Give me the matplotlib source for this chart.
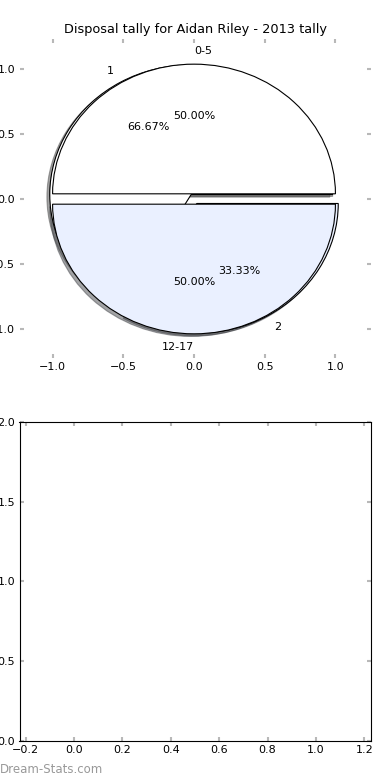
import numpy as np
import matplotlib
matplotlib.use("Agg")
import matplotlib.pyplot as plt

# pie data
tally_labels = ["1", "2"]
tally_values = [2, 1]
range_labels = ["0-5", "12-17"]
range_values = [1, 1]
pie_colors = ["white", "#eaf0ff"]
title = "Disposal tally for Aidan Riley - 2013 tally"

plt.rcParams["font.size"] = 8
plt.rcParams["xtick.direction"] = "in"
plt.rcParams["ytick.direction"] = "in"

fig = plt.figure(figsize=(3.9, 7.8), dpi=100)
fig.subplots_adjust(left=0.05, right=0.95, bottom=0.05, top=0.95, hspace=0.2)

# thin shadow like the old pie (offset ~0.02 data units)
shadow = {"ox": -0.0144, "oy": -0.0144}
wprops = {"edgecolor": "black", "linewidth": 0.8}

ax1 = fig.add_subplot(211)
ax1.pie(tally_values, labels=tally_labels, colors=pie_colors, autopct="%1.2f%%",
        explode=(0.04, 0.04), shadow=shadow, wedgeprops=wprops)
wedges, texts, autotexts = ax1.pie(range_values, labels=range_labels,
                                   colors=pie_colors, autopct="%1.2f%%",
                                   explode=(0.04, 0.04), shadow=shadow,
                                   wedgeprops=wprops)
# old matplotlib aligned the labels at 90/270 deg to the left / right
texts[0].set_ha("left")
texts[1].set_ha("right")

ax1.set_aspect("auto")
ax1.set_xlim(-1.234, 1.248)
ax1.set_ylim(-1.227, 1.234)
ax1.set_xticks([-1.0, -0.5, 0.0, 0.5, 1.0])
ax1.set_yticks([-1.0, -0.5, 0.0, 0.5, 1.0])
ax1.set_title(title, fontsize=9.3, pad=4)

ax2 = fig.add_subplot(212)
ax2.set_xlim(-0.225, 1.225)
ax2.set_ylim(0, 2)
ax2.set_xticks(np.arange(-0.2, 1.21, 0.2))
ax2.set_yticks([0.0, 0.5, 1.0, 1.5, 2.0])

for ax in (ax1, ax2):
    ax.tick_params(which="both", top=True, right=True, color="#b8b8b8",
                   width=1.5, length=3, labelsize=8, pad=3)

fig.text(0.0, 0.005, "Dream-Stats.com", color="#999999", fontsize=8.5,
         ha="left", va="bottom")

fig.savefig("out.png", dpi=100)
